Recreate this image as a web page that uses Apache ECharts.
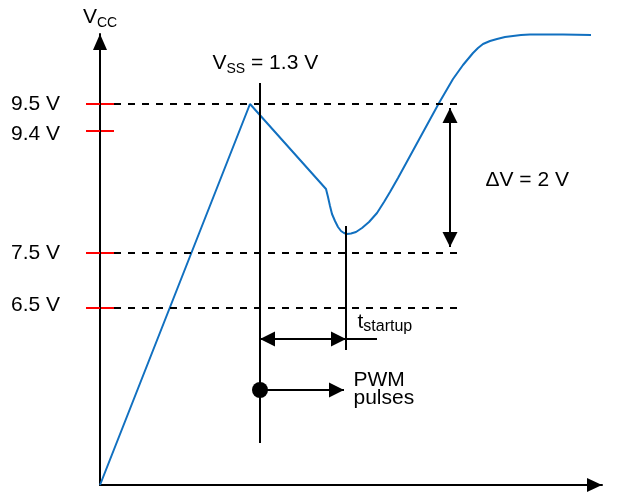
<!DOCTYPE html>
<html>
<head>
<meta charset="utf-8">
<script src="https://cdn.jsdelivr.net/npm/echarts@6/dist/echarts.min.js"></script>
<style>
  html, body { margin: 0; padding: 0; background: #fff; }
  #chart { width: 621px; height: 498px; }
</style>
</head>
<body>
<div id="chart"></div>
<script>
// schematic units (not to scale): origin at the axes corner
const levelValues = [381, 354, 232, 177];
const levelLabels = ['9.5 V', '9.4 V', '7.5 V', '6.5 V'];
const levelLabelStyle = ['t', 'dn', 't', 'up'];
const dashedLevels = [381, 232, 177];
const dashFrom = 14, dashTo = 362;

// Vcc trace
const curveX = [0, 150, 226, 228, 230, 232, 235, 238, 241, 244, 247, 251, 256, 262, 269, 277, 284, 290, 298, 339, 353, 363, 373, 378, 383, 390, 397, 405, 413, 421, 430, 463, 491];
const curveY = [0, 381, 296, 288, 279, 271, 264, 258, 254, 252, 251, 251.5, 253, 257, 263, 272, 283, 293, 307, 382, 406, 420, 432, 437, 441, 444, 446, 448, 449, 450, 450.5, 450.5, 450];

// markers
const vssX = 160, vssTop = 402, vssBottom = 42;
const startupX = 246, startupTop = 259, startupBottom = 135;
const startupArrowY = 146, startupTail = 277;
const pwmY = 95, pwmTip = 244;
const deltaX = 350, deltaTop = 377, deltaBottom = 238;

// annotations
const noteX = [112, 385, 257, 253];
const noteY = [422, 305, 163, 96];
const noteText = ['{v|V}{s|SS}{v| = 1.3 V}', '{v|ΔV = 2 V}', '{v|t}{u|startup}', '{p|PWM}\n{p|pulses}'];

const font = '"Liberation Sans", Arial, Helvetica, sans-serif';
const blue = '#1170c0';

let myChart = echarts.init(document.getElementById('chart'));

const seg = (x1, y1, x2, y2) => [{ coord: [x1, y1] }, { coord: [x2, y2] }];

let option = {
  animation: false,
  grid: { left: 100, top: 34, width: 502, height: 451, containLabel: false },
  xAxis: {
    type: 'value', min: 0, max: 502,
    axisLine: {
      lineStyle: { color: '#000', width: 2 },
      symbol: ['none', 'triangle'], symbolSize: [14, 15], symbolOffset: [0, -7.5]
    },
    axisTick: { show: false },
    axisLabel: { show: false },
    splitLine: { show: false }
  },
  yAxis: [
    {
      type: 'value', min: 0, max: 451, position: 'left', z: 3,
      name: '{v|V}{s|CC}',
      nameLocation: 'end',
      nameGap: 7,
      nameTextStyle: {
        rich: {
          v: { fontSize: 21, fontFamily: font, color: '#000', lineHeight: 20, verticalAlign: 'top' },
          s: { fontSize: 14, fontFamily: font, color: '#000', lineHeight: 14, padding: [9, 0, 0, 0], verticalAlign: 'top' }
        }
      },
      axisLine: {
        lineStyle: { color: '#000', width: 2 },
        symbol: ['none', 'triangle'], symbolSize: [14, 16], symbolOffset: [0, -8]
      },
      axisTick: { show: true, customValues: levelValues, length: 14, lineStyle: { color: '#ff0000', width: 2 } },
      axisLabel: {
        customValues: levelValues,
        margin: 40,
        color: '#000', fontSize: 21, fontFamily: font,
        formatter: function (v) {
          const i = levelValues.indexOf(v);
          return '{' + levelLabelStyle[i] + '|' + levelLabels[i] + '}';
        },
        rich: {
          t: { fontSize: 21, fontFamily: font, color: '#000' },
          dn: { fontSize: 21, fontFamily: font, color: '#000', padding: [7, 0, 0, 0] },
          up: { fontSize: 21, fontFamily: font, color: '#000', padding: [0, 0, 6, 0] }
        }
      },
      splitLine: { show: false }
    },
    {
      type: 'value', min: 0, max: 451, position: 'left', offset: 0, z: 1,
      axisLine: { show: false },
      axisTick: { show: true, inside: true, customValues: levelValues, length: 14, lineStyle: { color: '#ff0000', width: 2 } },
      axisLabel: { show: false },
      splitLine: { show: false }
    }
  ],
  series: [
    {
      name: 'guides', type: 'line', data: [], silent: true,
      markLine: {
        silent: true, symbol: 'none', label: { show: false },
        lineStyle: { color: '#000', type: [7, 7], width: 2, opacity: 1 },
        data: dashedLevels.map(v => seg(dashFrom, v, dashTo, v))
      }
    },
    {
      name: 'markers', type: 'line', data: [], silent: true,
      markLine: {
        silent: true, symbol: 'none', label: { show: false },
        lineStyle: { color: '#000', type: 'solid', width: 2, opacity: 1 },
        data: [
          seg(vssX, vssTop, vssX, vssBottom),
          seg(startupX, startupTop, startupX, startupBottom),
          seg(startupX, startupArrowY, startupTail, startupArrowY)
        ]
      }
    },
    {
      name: 'arrows2', type: 'line', data: [], silent: true,
      markLine: {
        silent: true, symbol: ['triangle', 'triangle'],
        symbolSize: 15, symbolOffset: [[0, 7.5], [0, 7.5]],
        label: { show: false },
        lineStyle: { color: '#000', type: 'solid', width: 2, opacity: 1 },
        data: [
          seg(vssX, startupArrowY, startupX, startupArrowY),
          seg(deltaX, deltaTop, deltaX, deltaBottom)
        ]
      }
    },
    {
      name: 'arrow1', type: 'line', data: [], silent: true,
      markLine: {
        silent: true, symbol: ['none', 'triangle'],
        symbolSize: 15, symbolOffset: [[0, 0], [0, 7.5]],
        label: { show: false },
        lineStyle: { color: '#000', type: 'solid', width: 2, opacity: 1 },
        data: [seg(vssX, pwmY, pwmTip, pwmY)]
      }
    },
    {
      name: 'Vcc', type: 'line', clip: false, silent: true, z: 4,
      symbol: 'none',
      lineStyle: { color: blue, width: 2 },
      data: curveX.map((x, i) => [x, curveY[i]])
    },
    {
      name: 'dot', type: 'scatter', silent: true, z: 5,
      symbolSize: 16, itemStyle: { color: '#000', opacity: 1 },
      data: [[vssX, pwmY]]
    },
    {
      name: 'notes', type: 'scatter', silent: true,
      symbolSize: 1, itemStyle: { color: 'transparent', opacity: 1 },
      label: {
        show: true, position: 'right', distance: 0, opacity: 1, color: '#000',
        formatter: function (p) { return noteText[p.dataIndex]; },
        rich: {
          v: { fontSize: 21, fontFamily: font, color: '#000', lineHeight: 20, verticalAlign: 'top' },
          s: { fontSize: 14, fontFamily: font, color: '#000', lineHeight: 14, padding: [9, 0, 0, 0], verticalAlign: 'top' },
          u: { fontSize: 16, fontFamily: font, color: '#000', lineHeight: 16, padding: [7, 0, 0, 0], verticalAlign: 'top' },
          p: { fontSize: 21, fontFamily: font, color: '#000', lineHeight: 18 }
        }
      },
      data: noteX.map((x, i) => [x, noteY[i]])
    }
  ]
};
myChart.setOption(option);
</script>
</body>
</html>
